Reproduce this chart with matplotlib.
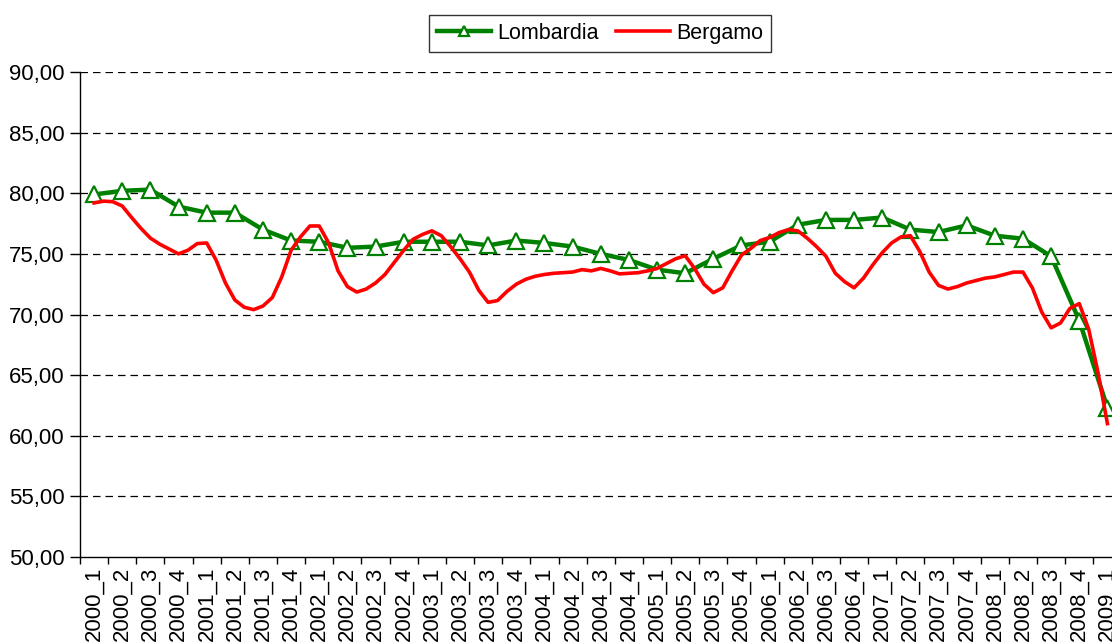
import numpy as np
import matplotlib
matplotlib.use("Agg")
import matplotlib.pyplot as plt
from matplotlib.ticker import FuncFormatter

# trimestri 2000_1 ... 2009_1
trimestri = [f"{a}_{q}" for a in range(2000, 2009) for q in range(1, 5)] + ["2009_1"]

lombardia = [79.9, 80.2, 80.3, 78.9, 78.4, 78.4, 77.0, 76.1, 76.0, 75.5,
             75.6, 76.0, 76.0, 76.0, 75.7, 76.1, 75.9, 75.6, 75.0, 74.5,
             73.7, 73.4, 74.6, 75.7, 76.0, 77.4, 77.8, 77.8, 78.0, 77.0,
             76.8, 77.35, 76.5, 76.25, 74.8, 69.5, 62.3]

# Bergamo: dati mensili (3 per trimestre)
bergamo = [79.2, 79.35, 79.3, 78.95, 78.0, 77.1, 76.3, 75.8, 75.4, 75.0,
           75.3, 75.85, 75.9, 74.5, 72.6, 71.2, 70.6, 70.4, 70.7, 71.4,
           73.1, 75.3, 76.4, 77.3, 77.3, 75.9, 73.6, 72.3, 71.85, 72.1,
           72.6, 73.3, 74.3, 75.3, 76.2, 76.6, 76.9, 76.5, 75.6, 74.6,
           73.5, 72.0, 71.0, 71.15, 71.9, 72.5, 72.9, 73.15, 73.3, 73.4,
           73.45, 73.5, 73.7, 73.6, 73.8, 73.6, 73.35, 73.4, 73.45, 73.6,
           73.8, 74.2, 74.6, 74.85, 73.8, 72.5, 71.8, 72.2, 73.6, 74.9,
           75.45, 76.1, 76.35, 76.75, 77.0, 76.9, 76.3, 75.6, 74.8, 73.4,
           72.7, 72.2, 73.0, 74.1, 75.1, 75.9, 76.4, 76.5, 75.2, 73.5,
           72.4, 72.1, 72.3, 72.6, 72.8, 73.0, 73.1, 73.3, 73.5, 73.5,
           72.2, 70.2, 68.9, 69.3, 70.5, 70.9, 68.8, 65.2, 61.0]

plt.rcParams['font.family'] = ['Liberation Sans', 'DejaVu Sans']

fig = plt.figure(figsize=(11.12, 6.44), dpi=100)
ax = fig.add_axes([80/1112, 87/644, 1041.5/1112, 485/644])

x = np.arange(len(trimestri))
xm = np.arange(len(bergamo)) / 3

ax.plot(x, lombardia, color='#008000', lw=3.2, marker='^', ms=11,
        mfc='white', mec='#008000', mew=1.6, label='Lombardia', zorder=3)
ax.plot(xm, bergamo, color='#FF0000', lw=2.6, label='Bergamo', zorder=4)

ax.set_xlim(-0.5, len(trimestri) - 0.5)
ax.set_ylim(50, 90)
ax.set_yticks(np.arange(50, 91, 5))
ax.yaxis.set_major_formatter(FuncFormatter(lambda v, p: f"{v:.2f}".replace('.', ',')))
ax.set_xticks(x)
ax.set_xticklabels(trimestri, rotation=90)
ax.set_xticks(np.arange(len(trimestri) + 1) - 0.5, minor=True)
ax.tick_params(axis='x', which='major', length=0, pad=7, labelsize=16)
ax.tick_params(axis='x', which='minor', length=5, width=1)
ax.tick_params(axis='y', length=7, width=1, labelsize=16, pad=4)

for v in np.arange(55, 91, 5):
    ax.axhline(v, color='black', lw=0.9, ls=(0, (6, 4)), zorder=1)

for s in ['top', 'right']:
    ax.spines[s].set_visible(False)
ax.spines['left'].set_linewidth(1)
ax.spines['bottom'].set_linewidth(1)

leg = fig.legend(loc='center', bbox_to_anchor=(600/1112, 1 - 33.5/644), ncol=2,
                 frameon=True, fancybox=False, edgecolor='black', fontsize=15.5,
                 handlelength=2.5, columnspacing=0.8, handletextpad=0.3,
                 borderpad=0.35, markerscale=0.7)
leg.get_frame().set_linewidth(1)

fig.savefig('out.png', dpi=100)
